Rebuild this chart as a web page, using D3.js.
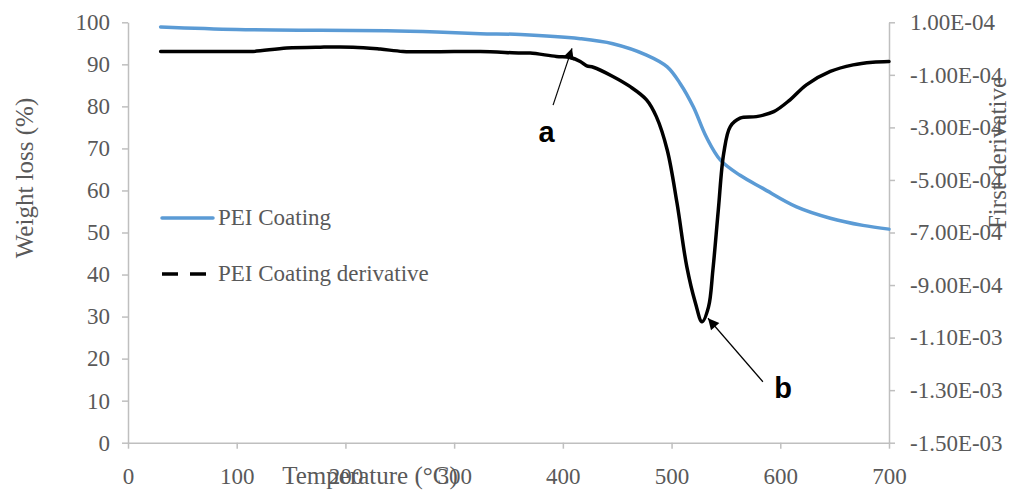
<!DOCTYPE html>
<html>
<head>
<meta charset="utf-8">
<script src="https://cdn.jsdelivr.net/npm/d3@7"></script>
<style>
  body { margin: 0; background: #fff; }
  svg { display: block; }
</style>
</head>
<body>
<div id="chart"><svg width="1015" height="490"></svg></div>
<script>
// Weight loss curve (temperature in °C, weight in %)
let weightTemp = [30, 100, 177, 238, 284, 324, 361, 416, 446, 477, 496, 508, 520, 532, 545, 563, 584, 615, 646, 676, 700];
let weightVal  = [98.9, 98.3, 98.1, 98.0, 97.7, 97.3, 97.1, 96.1, 94.9, 92.2, 89.4, 85.4, 79.9, 72.7, 67.2, 63.6, 60.5, 56.1, 53.4, 51.7, 50.8];

// First derivative curve
let derivTemp = [30, 100, 115, 146, 177, 207, 232, 253, 284, 324, 361, 370, 394, 407, 416, 422, 428, 446, 462, 477, 486, 496, 505, 514, 522, 528, 534, 538, 543, 548, 554, 563, 578, 594, 609, 624, 646, 667, 685, 700];
let derivVal  = [-1.1e-5, -1.1e-5, -1.1e-5, 2e-6, 5.5e-6, 5.5e-6, -2e-6, -1.1e-5, -1.2e-5, -1.1e-5, -1.7e-5, -1.7e-5, -3.0e-5, -3.4e-5, -4.9e-5, -6.6e-5, -7.1e-5, -1.06e-4, -1.45e-4, -1.95e-4, -2.59e-4, -3.86e-4, -5.88e-4, -8.3e-4, -9.69e-4, -1.04e-3, -9.83e-4, -8.43e-4, -6.14e-4, -3.98e-4, -2.97e-4, -2.65e-4, -2.59e-4, -2.4e-4, -1.95e-4, -1.38e-4, -8.7e-5, -6.2e-5, -5.2e-5, -4.9e-5];

// Tick values
let xTicks = [0, 100, 200, 300, 400, 500, 600, 700];
let yTicks = [0, 10, 20, 30, 40, 50, 60, 70, 80, 90, 100];
let y2Ticks = [1e-4, -1e-4, -3e-4, -5e-4, -7e-4, -9e-4, -1.1e-3, -1.3e-3, -1.5e-3];

// Annotation labels: text position and arrow (tail -> tip), in temperature / weight units
let annoLabels = ["a", "b"];
let annoText = [[385, 71.5], [602.5, 10.6]];
let annoTail = [[391, 80.3], [584, 14.5]];
let annoTip  = [[408.4, 93.8], [533.5, 29.6]];

let svg = d3.select("div#chart svg"),
  plotLeft = 128, plotRight = 889, plotTop = 22.3, plotBottom = 442.7;

let serif = "'Liberation Serif', 'Times New Roman', serif";
let gray = "#595959", axisGray = "#bfbfbf";

let x = d3.scaleLinear().domain([0, 700]).range([plotLeft, plotRight]);
let y = d3.scaleLinear().domain([0, 100]).range([plotBottom, plotTop]);
let y2 = d3.scaleLinear().domain([-1.5e-3, 1e-4]).range([plotBottom, plotTop]);

// 1.00E-04 style
let sciFormat = function(v) {
  let parts = v.toExponential(2).toUpperCase().split("E");
  let exp = +parts[1];
  return parts[0] + "E" + (exp < 0 ? "-" : "+") + String(Math.abs(exp)).padStart(2, "0");
};

function styleAxis(sel) {
  sel.select(".domain").attr("stroke", axisGray).attr("stroke-width", 1.5);
  sel.selectAll(".tick line").attr("stroke", axisGray).attr("stroke-width", 1.5);
  sel.selectAll(".tick text")
    .attr("fill", gray)
    .style("font-family", serif)
    .style("font-size", "23px");
}

// X axis
svg.append("g")
  .attr("transform", "translate(0," + plotBottom + ")")
  .call(d3.axisBottom(x).tickValues(xTicks).tickSize(6).tickPadding(19).tickSizeOuter(0))
  .call(styleAxis);

// Left axis
svg.append("g")
  .attr("transform", "translate(" + plotLeft + ",0)")
  .call(d3.axisLeft(y).tickValues(yTicks).tickSize(6).tickPadding(12).tickSizeOuter(0))
  .call(styleAxis);

// Right axis
svg.append("g")
  .attr("transform", "translate(" + plotRight + ",0)")
  .call(d3.axisRight(y2).tickValues(y2Ticks).tickSize(6).tickPadding(15).tickSizeOuter(0).tickFormat(sciFormat))
  .call(styleAxis);

// Axis titles
svg.append("text")
  .attr("transform", "translate(33,178) rotate(-90)")
  .attr("text-anchor", "middle")
  .attr("fill", gray)
  .style("font-family", serif)
  .style("font-size", "25px")
  .text("Weight loss (%)");

svg.append("text")
  .attr("transform", "translate(1006,153) rotate(-90)")
  .attr("text-anchor", "middle")
  .attr("fill", gray)
  .style("font-family", serif)
  .style("font-size", "25px")
  .text("First derivative");

svg.append("text")
  .attr("x", 370)
  .attr("y", 484)
  .attr("text-anchor", "middle")
  .attr("fill", gray)
  .style("font-family", serif)
  .style("font-size", "25px")
  .text("Temperature (°C)");

// Curves
let weightLine = d3.line()
  .x((d, i) => x(weightTemp[i]))
  .y(d => y(d))
  .curve(d3.curveCatmullRom.alpha(0.5));

let derivLine = d3.line()
  .x((d, i) => x(derivTemp[i]))
  .y(d => y2(d))
  .curve(d3.curveCatmullRom.alpha(0.5));

svg.append("path")
  .datum(weightVal)
  .attr("d", weightLine)
  .attr("fill", "none")
  .attr("stroke", "#5b9bd5")
  .attr("stroke-width", 3.5)
  .attr("stroke-linecap", "round");

svg.append("path")
  .datum(derivVal)
  .attr("d", derivLine)
  .attr("fill", "none")
  .attr("stroke", "#000")
  .attr("stroke-width", 3.5)
  .attr("stroke-linecap", "round")
  .attr("stroke-linejoin", "round");

// Legend
let legend = svg.append("g").attr("transform", "translate(162,0)");

legend.append("line")
  .attr("x1", 0).attr("x2", 51)
  .attr("y1", 218).attr("y2", 218)
  .attr("stroke", "#5b9bd5")
  .attr("stroke-width", 3.5)
  .attr("stroke-linecap", "round");

legend.append("text")
  .attr("x", 56).attr("y", 225)
  .attr("fill", gray)
  .style("font-family", serif)
  .style("font-size", "23px")
  .text("PEI Coating");

legend.append("line")
  .attr("x1", 0).attr("x2", 51)
  .attr("y1", 274).attr("y2", 274)
  .attr("stroke", "#000")
  .attr("stroke-width", 3.5)
  .attr("stroke-dasharray", "16,12");

legend.append("text")
  .attr("x", 56).attr("y", 281)
  .attr("fill", gray)
  .style("font-family", serif)
  .style("font-size", "23px")
  .text("PEI Coating derivative");

// Annotations
svg.append("defs").append("marker")
  .attr("id", "arrow")
  .attr("viewBox", "0 0 10 10")
  .attr("refX", 10).attr("refY", 5)
  .attr("markerUnits", "userSpaceOnUse")
  .attr("markerWidth", 14).attr("markerHeight", 11)
  .attr("orient", "auto")
  .append("path")
  .attr("d", "M0,0 L10,5 L0,10 Z")
  .attr("fill", "#000");

annoLabels.forEach((label, i) => {
  svg.append("line")
    .attr("x1", x(annoTail[i][0])).attr("y1", y(annoTail[i][1]))
    .attr("x2", x(annoTip[i][0])).attr("y2", y(annoTip[i][1]))
    .attr("stroke", "#000")
    .attr("stroke-width", 1.2)
    .attr("marker-end", "url(#arrow)");

  svg.append("text")
    .attr("x", x(annoText[i][0]))
    .attr("y", y(annoText[i][1]))
    .attr("text-anchor", "middle")
    .style("font-family", "'Liberation Sans', Arial, sans-serif")
    .style("font-weight", "bold")
    .style("font-size", "29px")
    .text(label);
});
</script>
</body>
</html>
